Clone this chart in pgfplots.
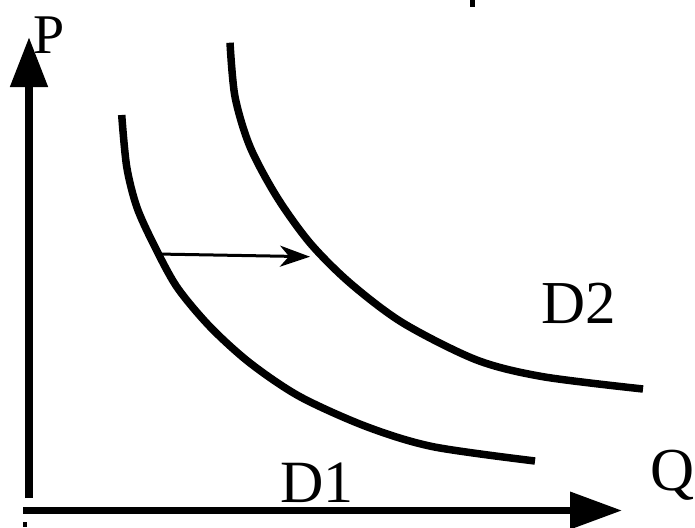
\documentclass[border=0pt]{standalone}
\usepackage{pgfplots}
\pgfplotsset{compat=1.18}
\usepackage{fontspec}
\setmainfont{Liberation Serif}
\newfontfamily\lserif{Liberation Serif}
\usetikzlibrary{arrows.meta}
\begin{document}
\begin{tikzpicture}
\begin{axis}[
  x=1pt, y=1pt, y dir=reverse,
  xmin=0, xmax=695, ymin=0, ymax=527,
  hide axis, clip=false,
  every axis plot/.append style={black, line cap=butt},
]
% axes
\addplot[line width=8pt, -{Triangle[length=50pt,width=36pt]}]
  coordinates {(29,498) (29,37)};
\addplot[line width=7pt, -{Triangle[length=52pt,width=36pt]}]
  coordinates {(23,510.5) (622,510.5)};
% cropped bits at the edges
\addplot[line width=5pt] coordinates {(472.5,0) (472.5,7)};
\addplot[line width=4pt] coordinates {(25,522) (25,527)};
% D1
\addplot[line width=7.5pt, smooth] coordinates {
  (121.7,115) (126.7,166.7) (136.7,206.7) (153,243) (176.7,286.7)
  (210,326.7) (250,363) (300,396.7) (366.7,426.7) (433,446.7) (535,461)
};
% D2
\addplot[line width=7.5pt, smooth] coordinates {
  (230,42.7) (235,96.7) (250,146.7) (276.7,196.7) (310,243)
  (350,283) (403,323) (476.7,360) (543,376.7) (643,389)
};
% shift arrow
\addplot[line width=3pt, -{Stealth[length=30pt,width=21pt,inset=9pt]}]
  coordinates {(156.7,254) (310,256.7)};
\node[anchor=base west, inner sep=0pt, font=\lserif\fontsize{56}{56}\selectfont] at (axis cs:33,53) {P};
\node[anchor=base west, inner sep=0pt, font=\lserif\fontsize{61}{61}\selectfont] at (axis cs:650,490) {Q};
\node[anchor=base west, inner sep=0pt, font=\lserif\fontsize{60}{60}\selectfont] at (axis cs:280,502) {D1};
\node[anchor=base west, inner sep=0pt, font=\lserif\fontsize{61}{61}\selectfont] at (axis cs:541,323) {D2};
\end{axis}
\pgfresetboundingbox
\path (current axis.south west) rectangle (current axis.north east);
\end{tikzpicture}
\end{document}
